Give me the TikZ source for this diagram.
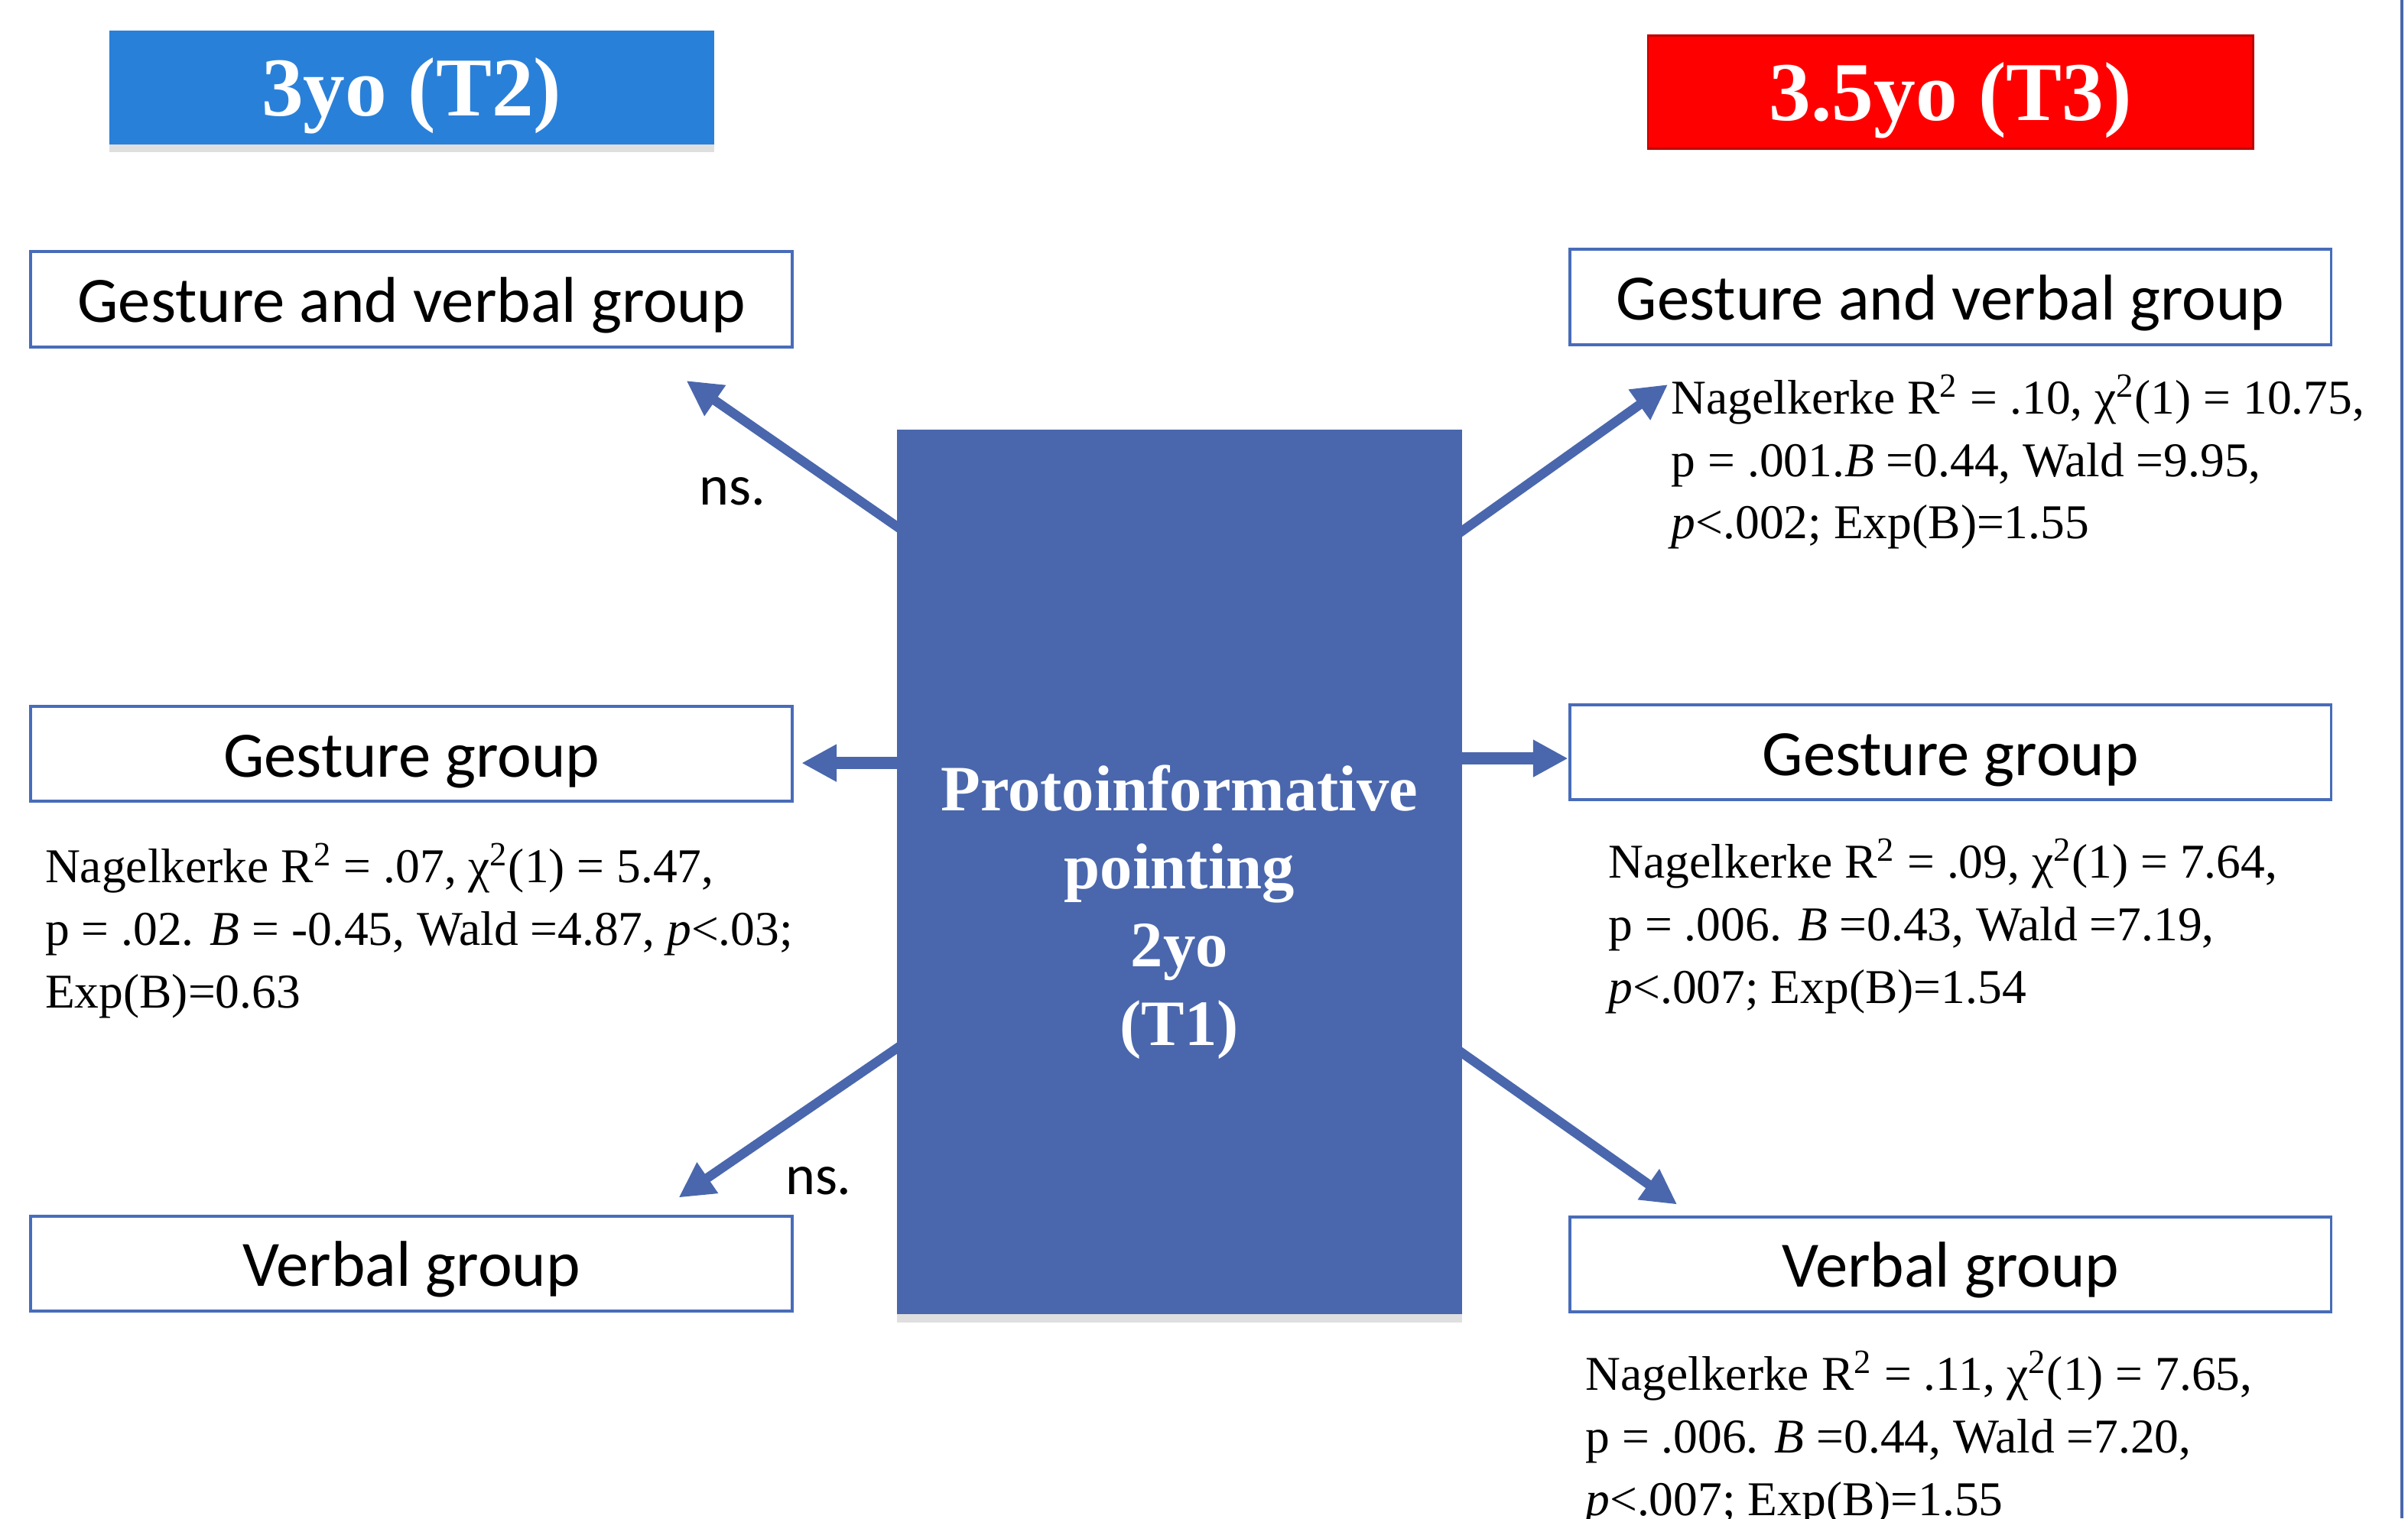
\documentclass[tikz,border=0pt]{standalone}
\usepackage{fontspec}
\setmainfont{Liberation Serif}
\newfontfamily\calibri{Carlito}
\usetikzlibrary{arrows.meta}
\usetikzlibrary{shadows}
\definecolor{ptblue}{RGB}{74,103,173}
\definecolor{boxblue}{RGB}{72,108,186}
\definecolor{headblue}{RGB}{41,128,217}
\definecolor{headred}{RGB}{255,0,0}

\begin{document}
\begin{tikzpicture}[x=0.02cm, y=-0.02cm,
		group/.style={draw=boxblue, line width=1.1pt, fill=white, minimum width=9.92cm, minimum height=1.24cm, inner sep=0pt, text height=22.5pt, text depth=5.5pt, font=\calibri\fontsize{24}{28}\selectfont},
		header/.style={minimum width=7.88cm, minimum height=1.48cm, inner sep=0pt, text height=27.5pt, text depth=6.5pt, text=white, font=\bfseries\fontsize{31}{36}\selectfont},
		stats/.style={anchor=north west, inner sep=0pt, align=left, font=\fontsize{18}{23.2}\selectfont},
		link/.style={draw=ptblue, line width=3.5pt, shorten <=-3pt, -{Triangle[length=13pt,width=13pt]}},
		sidelink/.style={link, line width=4.7pt},
		ns/.style={font=\calibri\fontsize{21}{24}\selectfont}]
		\useasboundingbox (0,0) rectangle (1568,989);
		\draw[ptblue, line width=1.2pt] (1564,0) -- (1564,989);
		
		\node[header, fill=headblue, drop shadow={shadow xshift=0pt, shadow yshift=-3pt, opacity=0.25}] (t2) at (268,57) {3yo (T2)};
		\node[header, fill=headred, draw=red!75!black, line width=0.8pt] (t3) at (1270,60) {3.5yo (T3)};
		
		\node[group] (gvl) at (268,195) {Gesture and verbal group};
		\node[group] (gl) at (268,491) {Gesture group};
		\node[group] (vl) at (268,823) {Verbal group};
		\node[group] (gvr) at (1270,193.5) {Gesture and verbal group};
		\node[group] (gr) at (1270,490) {Gesture group};
		\node[group] (vr) at (1270,823.5) {Verbal group};
		
		\node[fill=ptblue, minimum width=7.36cm, minimum height=11.52cm, inner sep=0pt, drop shadow={shadow xshift=0pt, shadow yshift=-3pt, opacity=0.25}] (pt) at (768,568) {};
		\node[align=center, text=white, font=\bfseries\fontsize{24}{29}\selectfont] (ptlabel) at ([shift={(0,26)}]pt.center) {Protoinformative\\pointing\\2yo\\(T1)};
		
		\coordinate (lm) at ([shift={(0,-71)}]pt.west);
		\coordinate (rm) at ([shift={(0,-74)}]pt.east);
		\draw[link] ([shift={(0,63)}]pt.north west) -- ([shift={(-70,21)}]gvl.south east);
		\draw[sidelink] (lm) -- ([shift={(5,0)}]lm -| gl.east);
		\draw[link] ([shift={(0,115)}]pt.west) -- ([shift={(-75,-11)}]vl.north east);
		\draw[link] ([shift={(0,66)}]pt.north east) -- ([shift={(65,25)}]gvr.south west);
		\draw[sidelink] (rm) -- (rm -| gr.west);
		\draw[link] ([shift={(0,118)}]pt.east) -- ([shift={(71,-7)}]vr.north west);
		
		\node[ns] (ns1) at (477,320) {ns.};
		\node[ns] (ns2) at (533,769) {ns.};
		
		\node[stats] (sgvr) at ([shift={(67,18)}]gvr.south west) {Nagelkerke R\textsuperscript{2} = .10, χ\textsuperscript{2}(1) = 10.75,\\p = .001.\textit{B} =0.44, Wald =9.95,\\\textit{p}<.002; Exp(B)=1.55};
		\node[stats] (sgl) at ([shift={(10,26)}]gl.south west) {Nagelkerke R\textsuperscript{2} = .07, χ\textsuperscript{2}(1) = 5.47,\\p = .02. \textit{B} = -0.45, Wald =4.87, \textit{p}<.03;\\Exp(B)=0.63};
		\node[stats] (sgr) at ([shift={(26,24)}]gr.south west) {Nagelkerke R\textsuperscript{2} = .09, χ\textsuperscript{2}(1) = 7.64,\\p = .006. \textit{B} =0.43, Wald =7.19,\\\textit{p}<.007; Exp(B)=1.54};
		\node[stats] (svr) at ([shift={(11,24)}]vr.south west) {Nagelkerke R\textsuperscript{2} = .11, χ\textsuperscript{2}(1) = 7.65,\\p = .006. \textit{B} =0.44, Wald =7.20,\\\textit{p}<.007; Exp(B)=1.55};
		
		\end{tikzpicture}
\end{document}
